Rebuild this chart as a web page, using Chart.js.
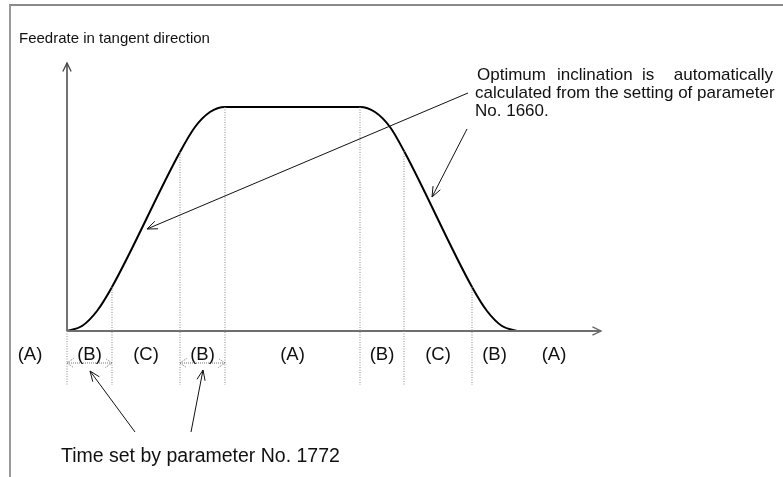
<!DOCTYPE html>
<html>
<head>
<meta charset="utf-8">
<script src="https://cdn.jsdelivr.net/npm/chart.js@4.4.1/dist/chart.umd.min.js"></script>
<style>
  html, body { margin: 0; padding: 0; background: #fff; }
  #wrap { position: relative; width: 783px; height: 477px; overflow: hidden; }
  #frame { position: absolute; left: 9px; top: 4px; width: 800px; height: 500px;
           border-left: 2px solid #9a9a9a; border-top: 2px solid #8a8a8a; pointer-events: none; }
  canvas { position: absolute; left: 0; top: 0; }
</style>
</head>
<body>
<div id="wrap">
  <canvas id="profileChart" width="783" height="477"></canvas>
  <div id="frame"></div>
</div>
<script>
// Geschwindigkeitsprofil (Zeit / Vorschub)
const curveT = [0, 15, 30, 45, 113, 128, 143, 158, 293, 308, 323, 337, 405, 420, 435, 450];
const curveV = [0, 5, 20, 44, 179, 204, 219, 224, 224, 219, 204, 180, 44, 20, 5, 0];

// Grenzen der Abschnitte (gestrichelte Linien) und Vorschub an dieser Stelle
const edgeT = [0, 45, 113, 158, 293, 337, 405];
const edgeV = [0, 44, 179, 224, 224, 180, 44];

// Abschnittsbezeichnungen
const segLabels = ['(A)', '(B)', '(C)', '(B)', '(A)', '(B)', '(C)', '(B)', '(A)'];
const segLabelT = [-37, 22.5, 79, 135.5, 225.5, 315, 371, 427.5, 487];

// Bereiche mit Doppelpfeil (Zeit aus Parameter 1772)
const jerkSpans = [[0, 45], [113, 158]];

const axisLenT = 534;
const axisLenV = 268;

// gestrichelte Linien: Segmente mit Lücken (null) dazwischen
var dotted = [];
edgeT.forEach(function(t, i) {
    dotted.push({x: t, y: edgeV[i]});
    dotted.push({x: t, y: -54});
    dotted.push({x: t, y: null});
});

var spans = [];
jerkSpans.forEach(function(s) {
    spans.push({x: s[0], y: -32});
    spans.push({x: s[1], y: -32});
    spans.push({x: s[1], y: null});
});

var curve = curveT.map(function(t, i) { return {x: t, y: curveV[i]}; });

function arrowHead(ctx, x1, y1, x2, y2, len, ang) {
    var a = Math.atan2(y2 - y1, x2 - x1);
    ctx.beginPath();
    ctx.moveTo(x2 - len * Math.cos(a - ang), y2 - len * Math.sin(a - ang));
    ctx.lineTo(x2, y2);
    ctx.lineTo(x2 - len * Math.cos(a + ang), y2 - len * Math.sin(a + ang));
    ctx.stroke();
}

function arrow(ctx, x1, y1, x2, y2) {
    ctx.beginPath();
    ctx.moveTo(x1, y1);
    ctx.lineTo(x2, y2);
    ctx.stroke();
    arrowHead(ctx, x1, y1, x2, y2, 11, 0.38);
}

// Beschriftungen und Pfeile
const annotations = {
    id: 'annotations',
    afterDatasetsDraw: function(chart) {
        var ctx = chart.ctx;
        var xs = chart.scales.x, ys = chart.scales.y;
        var X = function(v) { return xs.getPixelForValue(v); };
        var Y = function(v) { return ys.getPixelForValue(v); };
        ctx.save();

        // Achsenpfeile
        ctx.strokeStyle = '#444';
        ctx.lineWidth = 1.3;
        arrowHead(ctx, X(0), Y(0), X(0), Y(axisLenV), 9.5, 0.45);
        ctx.strokeStyle = '#666';
        arrowHead(ctx, X(0), Y(0), X(axisLenT), Y(0), 9.5, 0.45);

        // Doppelpfeile (gepunktet)
        ctx.strokeStyle = '#777';
        ctx.lineWidth = 1;
        ctx.setLineDash([1, 1]);
        jerkSpans.forEach(function(s) {
            arrowHead(ctx, X(s[1]), Y(-32), X(s[0]), Y(-32), 8, 0.6);
            arrowHead(ctx, X(s[0]), Y(-32), X(s[1]), Y(-32), 8, 0.6);
        });
        ctx.setLineDash([]);

        // Hinweispfeile
        ctx.strokeStyle = '#111';
        ctx.lineWidth = 1;
        arrow(ctx, X(401), Y(238), X(80), Y(102));
        arrow(ctx, X(400), Y(202), X(365), Y(134));
        arrow(ctx, X(68), Y(-101), X(23), Y(-40));
        arrow(ctx, X(124), Y(-101), X(136), Y(-39));

        ctx.fillStyle = '#111';
        ctx.textBaseline = 'middle';

        ctx.font = '15px "Liberation Sans", Arial, sans-serif';
        ctx.textAlign = 'left';
        ctx.fillText('Feedrate in tangent direction', X(-48), Y(292));

        ctx.font = '18.5px "Liberation Sans", Arial, sans-serif';
        ctx.textAlign = 'center';
        segLabels.forEach(function(l, i) {
            ctx.fillText(l, X(segLabelT[i]), Y(-24));
        });

        ctx.font = '17px "Liberation Sans", Arial, sans-serif';
        ctx.textAlign = 'left';
        ctx.fillText('Optimum', X(410), Y(256));
        ctx.fillText('inclination', X(490), Y(256));
        ctx.fillText('is', X(575), Y(256));
        ctx.textAlign = 'right';
        ctx.fillText('automatically', X(706), Y(256));
        ctx.textAlign = 'left';
        ctx.fillText('calculated from the setting of parameter', X(408), Y(238));
        ctx.fillText('No. 1660.', X(408), Y(220));

        ctx.font = '19.5px "Liberation Sans", Arial, sans-serif';
        ctx.fillText('Time set by parameter No. 1772', X(-6), Y(-126));

        ctx.restore();
    }
};

var ctx = document.getElementById('profileChart').getContext('2d');
var chart = new Chart(ctx, {
    type: 'line',
    data: {
        datasets: [
            {
                // gepunktete Abschnittsgrenzen
                data: dotted,
                borderColor: '#888',
                borderWidth: 1,
                borderDash: [1, 1.5],
                pointRadius: 0,
                spanGaps: false
            },
            {
                data: spans,
                borderColor: '#777',
                borderWidth: 1,
                borderDash: [1, 1],
                pointRadius: 0,
                spanGaps: false
            },
            {
                // x-Achse
                data: [{x: 0, y: 0}, {x: axisLenT, y: 0}],
                borderColor: '#6e6e6e',
                borderWidth: 2,
                pointRadius: 0
            },
            {
                // y-Achse
                data: [{x: 0, y: 0}, {x: 0, y: axisLenV}],
                borderColor: '#444',
                borderWidth: 1.5,
                pointRadius: 0
            },
            {
                // Vorschubprofil
                data: curve,
                borderColor: '#000',
                borderWidth: 2,
                pointRadius: 0,
                cubicInterpolationMode: 'monotone'
            }
        ]
    },
    options: {
        responsive: false,
        animation: false,
        events: [],
        layout: { padding: 0 },
        plugins: {
            legend: { display: false },
            tooltip: { enabled: false }
        },
        scales: {
            x: { type: 'linear', min: -67, max: 716, display: false },
            y: { type: 'linear', min: -146, max: 331, display: false }
        }
    },
    plugins: [annotations]
});
</script>
</body>
</html>
